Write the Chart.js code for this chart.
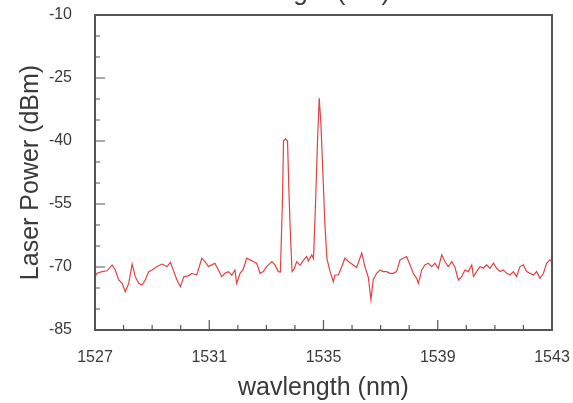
<!DOCTYPE html>
<html>
<head>
  <meta charset="UTF-8" />
  <title>Laser spectrum</title>
  <script src="https://cdn.jsdelivr.net/npm/chart.js"></script>
  <style>
    html, body { margin: 0; padding: 0; background: #fff; }
    #wrap { position: relative; width: 573px; height: 403px; }
  </style>
</head>
<body>
  <div id="wrap"><canvas id="spec" width="573" height="403"></canvas></div>

  <script>
    // wavelength (nm) and laser power (dBm)
    const wl = [
      1527.00, 1527.07, 1527.25, 1527.42, 1527.60, 1527.71, 1527.83, 1527.95, 1528.06, 1528.18,
      1528.30, 1528.41, 1528.53, 1528.65, 1528.76, 1528.88, 1529.00, 1529.17, 1529.35, 1529.52,
      1529.64, 1529.76, 1529.87, 1529.99, 1530.11, 1530.27, 1530.39, 1530.56, 1530.74, 1530.85,
      1530.97, 1531.09, 1531.20, 1531.32, 1531.44, 1531.55, 1531.67, 1531.79, 1531.90, 1531.96,
      1532.08, 1532.19, 1532.31, 1532.43, 1532.54, 1532.66, 1532.78, 1532.89, 1533.01, 1533.19,
      1533.30, 1533.42, 1533.49, 1533.56, 1533.60, 1533.67, 1533.74, 1533.79, 1533.84, 1533.90,
      1533.97, 1534.06, 1534.18, 1534.29, 1534.41, 1534.47, 1534.59, 1534.65, 1534.72, 1534.79,
      1534.85, 1534.91, 1534.98, 1535.05, 1535.12, 1535.23, 1535.29, 1535.34, 1535.40, 1535.52,
      1535.64, 1535.75, 1535.87, 1536.04, 1536.16, 1536.34, 1536.45, 1536.57, 1536.66, 1536.74,
      1536.86, 1536.98, 1537.09, 1537.21, 1537.33, 1537.44, 1537.56, 1537.68, 1537.79, 1537.91,
      1538.03, 1538.14, 1538.26, 1538.32, 1538.44, 1538.55, 1538.67, 1538.79, 1538.90, 1539.02,
      1539.14, 1539.25, 1539.37, 1539.49, 1539.60, 1539.72, 1539.84, 1539.95, 1540.07, 1540.19,
      1540.25, 1540.36, 1540.48, 1540.60, 1540.71, 1540.83, 1540.95, 1541.06, 1541.18, 1541.30,
      1541.41, 1541.53, 1541.65, 1541.76, 1541.88, 1542.00, 1542.11, 1542.23, 1542.35, 1542.46,
      1542.58, 1542.70, 1542.81, 1542.93, 1543.00
    ];
    const pw = [
      -72.4, -71.5, -71.1, -70.9, -69.5, -70.7, -73.1, -73.9, -75.9, -73.9,
      -69.3, -72.3, -73.9, -74.3, -73.1, -71.1, -70.7, -69.9, -69.3, -69.9,
      -68.9, -71.1, -73.1, -74.7, -72.3, -72.1, -71.5, -71.9, -67.9, -68.7,
      -69.9, -69.5, -69.1, -70.7, -72.3, -71.5, -71.1, -71.9, -70.7, -73.9,
      -71.5, -70.5, -67.9, -68.3, -68.7, -69.1, -71.5, -71.1, -69.9, -68.7,
      -69.5, -71.1, -71.2, -55.0, -40.0, -39.5, -40.0, -52.0, -62.0, -71.1,
      -70.5, -68.7, -69.6, -68.5, -67.5, -68.6, -67.1, -68.0, -55.0, -40.0,
      -29.8, -36.0, -48.0, -60.0, -68.0, -71.1, -72.3, -73.5, -71.9, -71.9,
      -69.9, -67.9, -68.7, -69.5, -70.1, -66.7, -69.9, -72.5, -77.8, -73.0,
      -71.5, -70.7, -71.1, -71.1, -71.5, -71.5, -71.1, -68.3, -67.9, -67.5,
      -69.5, -71.5, -72.7, -73.9, -70.7, -69.5, -69.1, -69.9, -69.1, -70.3,
      -67.1, -68.7, -69.9, -68.7, -70.0, -73.1, -72.3, -70.7, -71.1, -69.5,
      -72.3, -71.1, -69.9, -70.3, -69.5, -70.3, -69.1, -70.3, -71.1, -70.7,
      -71.5, -71.9, -71.1, -72.3, -69.9, -69.5, -71.1, -71.5, -71.9, -71.1,
      -72.7, -71.5, -69.1, -68.3, -68.8
    ];

    // axis ticks
    const xMajor = [1527, 1531, 1535, 1539, 1543];
    const xMinor = [1528, 1529, 1530, 1532, 1533, 1534, 1536, 1537, 1538, 1540, 1541, 1542];
    const yMajor = [-85, -70, -55, -40, -25, -10];
    const yMinor = [-80, -75, -65, -60, -50, -45, -35, -30, -20, -15];

    const FONT = "'Liberation Sans', Arial, sans-serif";
    const INK = '#3a3a3a';

    // frame box + inward tick marks, plus the clipped heading at the top
    const frame = {
      id: 'frame',
      afterDatasetsDraw(chart) {
        const { ctx, chartArea: a, scales: { x, y } } = chart;
        ctx.save();
        ctx.strokeStyle = '#555';
        ctx.lineWidth = 1.2;
        ctx.beginPath();
        const tick = (x1, y1, x2, y2) => { ctx.moveTo(x1, y1); ctx.lineTo(x2, y2); };
        xMajor.forEach(v => { const p = x.getPixelForValue(v); tick(p, a.bottom, p, a.bottom - 10); });
        xMinor.forEach(v => { const p = x.getPixelForValue(v); tick(p, a.bottom, p, a.bottom - 5); });
        yMajor.forEach(v => { const p = y.getPixelForValue(v); tick(a.left, p, a.left + 10, p); });
        yMinor.forEach(v => { const p = y.getPixelForValue(v); tick(a.left, p, a.left + 5, p); });
        ctx.stroke();
        ctx.lineWidth = 2;
        ctx.strokeRect(a.left, a.top, a.right - a.left, a.bottom - a.top);

        ctx.fillStyle = INK;
        ctx.font = '26px ' + FONT;
        ctx.textAlign = 'center';
        ctx.textBaseline = 'alphabetic';
        ctx.fillText('wavelength (nm)', 294, 0);
        ctx.restore();
      }
    };

    const setTicks = arr => scale => { scale.ticks = arr.map(v => ({ value: v })); };

    new Chart(document.getElementById('spec'), {
      type: 'scatter',
      data: {
        datasets: [{
          data: wl.map((w, i) => ({ x: w, y: pw[i] })),
          showLine: true,
          borderColor: 'rgb(228, 66, 66)',
          borderWidth: 1.2,
          pointRadius: 0,
          tension: 0
        }]
      },
      options: {
        responsive: false,
        animation: false,
        devicePixelRatio: 1,
        layout: { padding: { top: 15, right: 21, left: 0, bottom: 0 } },
        plugins: { legend: { display: false }, tooltip: { enabled: false } },
        scales: {
          x: {
            type: 'linear',
            min: 1527, max: 1543,
            afterBuildTicks: setTicks(xMajor),
            afterFit: s => { s.height = 73; s.paddingLeft = 0; s.paddingRight = 0; },
            grid: { display: false, drawTicks: false },
            border: { display: false },
            ticks: { color: INK, font: { family: FONT, size: 16 }, padding: 18, maxRotation: 0, autoSkip: false, callback: v => String(v) },
            title: { display: true, text: 'wavlength (nm)', color: INK, font: { family: FONT, size: 25 }, padding: { top: 0, bottom: 0 } }
          },
          y: {
            min: -85, max: -10,
            afterBuildTicks: setTicks(yMajor),
            afterFit: s => { s.width = 95; s.paddingTop = 0; s.paddingBottom = 0; },
            grid: { display: false, drawTicks: false },
            border: { display: false },
            ticks: { color: INK, font: { family: FONT, size: 16 }, padding: 23, callback: v => String(v) },
            title: { display: true, text: 'Laser Power (dBm)', color: INK, font: { family: FONT, size: 25 }, padding: { top: 16, bottom: 0 } }
          }
        }
      },
      plugins: [frame]
    });
  </script>
</body>
</html>
